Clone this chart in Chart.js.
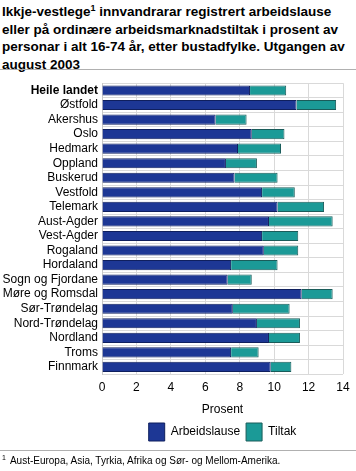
<!DOCTYPE html>
<html><head><meta charset="utf-8">
<script src="https://cdn.jsdelivr.net/npm/chart.js@4/dist/chart.umd.min.js"></script>
<style>
html,body{margin:0;padding:0;background:#fff;width:356px;height:471px;overflow:hidden;font-family:"Liberation Sans",Arial,sans-serif;}
#title{position:absolute;left:2px;top:3px;width:354px;font-weight:bold;font-size:13.5px;line-height:17.5px;color:#000;white-space:nowrap;}
#title sup{font-size:9px;line-height:0;vertical-align:5px;}
#hr1{position:absolute;left:0;top:69px;width:356px;height:1px;background:#b0b0b0;}
#wrap{position:absolute;left:0;top:72px;width:356px;height:379px;}
#hr2{position:absolute;left:0;top:450px;width:356px;height:1px;background:#b0b0b0;}
#foot{position:absolute;left:2px;top:455px;font-size:10px;color:#000;}
#foot sup{font-size:7px;vertical-align:4px;line-height:0;margin-right:4px;}
</style></head>
<body>
<div id="title">Ikkje-vestlege<sup>1</sup> innvandrarar registrert arbeidslause<br>eller på ordinære arbeidsmarknadstiltak i prosent av<br>personar i alt 16-74 år, etter bustadfylke. Utgangen av<br>august 2003</div>
<div id="hr1"></div>
<div id="wrap"><canvas id="c" width="356" height="379"></canvas></div>
<div id="hr2"></div>
<div id="foot"><sup>1</sup>Aust-Europa, Asia, Tyrkia, Afrika og Sør- og Mellom-Amerika.</div>
<script>
const categories = ["Heile landet","Østfold","Akershus","Oslo","Hedmark","Oppland","Buskerud","Vestfold","Telemark","Aust-Agder","Vest-Agder","Rogaland","Hordaland","Sogn og Fjordane","Møre og Romsdal","Sør-Trøndelag","Nord-Trøndelag","Nordland","Troms","Finnmark"];
const arbeidslause = [8.6,11.3,6.6,8.7,7.9,7.2,7.7,9.3,10.2,9.7,9.3,9.4,7.5,7.3,11.6,7.6,9.0,9.7,7.5,9.8];
const tiltak = [2.1,2.3,1.8,1.9,2.5,1.8,2.5,1.9,2.7,3.7,2.1,2.0,2.7,1.4,1.8,3.3,2.5,1.8,1.6,1.2];
const xTicks = [0,2,4,6,8,10,12,14];
const seriesNames = ["Arbeidslause","Tiltak"];

const fontFam = '"Liberation Sans", Arial, sans-serif';
new Chart(document.getElementById('c'), {
  type: 'bar',
  data: {
    labels: categories,
    datasets: [
      {label: seriesNames[0], data: arbeidslause, backgroundColor: '#1d3795', borderColor: '#0f1f5e', borderWidth: 1, categoryPercentage: 1, barPercentage: 0.7},
      {label: seriesNames[1], data: tiltak, backgroundColor: '#1b9a97', borderColor: '#1a5c5a', borderWidth: 1, categoryPercentage: 1, barPercentage: 0.7}
    ]
  },
  options: {
    indexAxis: 'y',
    responsive: false,
    animation: false,
    devicePixelRatio: 1,
    layout: {padding: {top: 11, right: 13, left: 0, bottom: 0}},
    plugins: {
      tooltip: {enabled: false},
      legend: {
        position: 'bottom',
        fullSize: false,
        labels: {
          boxWidth: 16, boxHeight: 18, padding: 6,
          color: '#000',
          font: {family: fontFam, size: 12}
        }
      }
    },
    scales: {
      x: {
        stacked: true, min: 0, max: 14,
        afterBuildTicks: s => { s.ticks = xTicks.map(v => ({value: v})); },
        grid: {color: '#d9d9d9', drawTicks: false},
        border: {display: false},
        ticks: {color: '#000', padding: 6, font: {family: fontFam, size: 12}},
        title: {display: true, text: 'Prosent', color: '#000', padding: {top: 2, bottom: 0}, font: {family: fontFam, size: 12}}
      },
      y: {
        stacked: true,
        afterFit: s => { s.width = 102; },
        grid: {color: '#d9d9d9', drawTicks: false, offset: true},
        border: {color: '#c8c8c8'},
        ticks: {
          color: '#000', padding: 4, autoSkip: false,
          font: ctx => ({family: fontFam, size: 12, weight: ctx.index === 0 ? 'bold' : 'normal'})
        }
      }
    }
  }
});
</script>
</body></html>
